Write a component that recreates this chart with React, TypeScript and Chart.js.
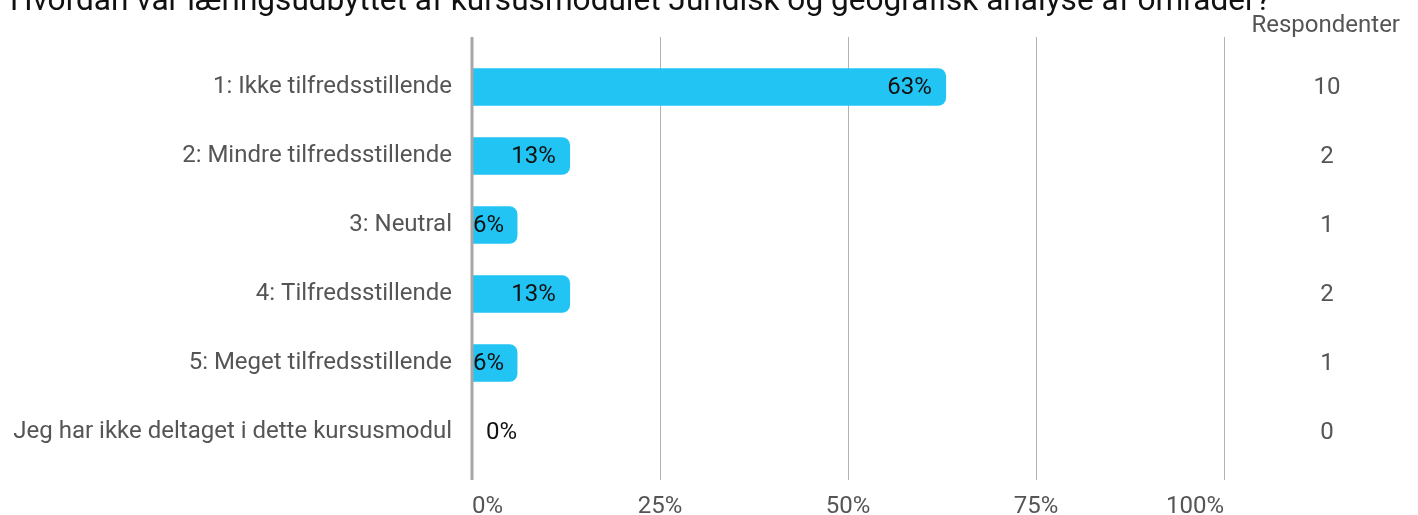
import React, { useEffect, useRef } from "react";
import { Chart, registerables } from "chart.js";

Chart.register(...registerables);

const titleText = "Hvordan var læringsudbyttet af kursusmodulet Juridisk og geografisk analyse af områder?";
const categories = [
  "1: Ikke tilfredsstillende",
  "2: Mindre tilfredsstillende",
  "3: Neutral",
  "4: Tilfredsstillende",
  "5: Meget tilfredsstillende",
  "Jeg har ikke deltaget i dette kursusmodul",
];
const respondents = [10, 2, 1, 2, 1, 0];
const percentValues = [63, 13, 6, 13, 6, 0];
const xTicks = [0, 25, 50, 75, 100];
const respondentsHeader = "Respondenter";

const FONT = "Roboto, 'Noto Sans', sans-serif";

const overlayPlugin = {
  id: "overlay",
  beforeDatasetsDraw(chart: any) {
    const ctx = chart.ctx;
    const xs = chart.scales.x;
    ctx.save();
    xs.ticks.forEach((t: any) => {
      const px = xs.getPixelForValue(t.value);
      if (t.value === 0) return;
      ctx.strokeStyle = "#b3b3b3";
      ctx.lineWidth = 1;
      ctx.beginPath();
      ctx.moveTo(Math.round(px) + 0.5, 37);
      ctx.lineTo(Math.round(px) + 0.5, 480);
      ctx.stroke();
    });
    ctx.restore();
  },
  afterDatasetsDraw(chart: any) {
    const ctx = chart.ctx;
    const xs = chart.scales.x;
    const ys = chart.scales.y;
    ctx.save();
    // zero axis line
    const x0 = xs.getPixelForValue(0);
    ctx.strokeStyle = "#a6a6a6";
    ctx.lineWidth = 3;
    ctx.beginPath();
    ctx.moveTo(x0, 37);
    ctx.lineTo(x0, 480);
    ctx.stroke();

    // value labels
    ctx.font = `24px ${FONT}`;
    ctx.fillStyle = "#111111";
    ctx.textBaseline = "middle";
    ctx.textAlign = "left";
    const meta = chart.getDatasetMeta(0);
    meta.data.forEach((bar: any, i: number) => {
      const label = percentValues[i] + "%";
      const w = ctx.measureText(label).width;
      const end = bar.x;
      const base = bar.base;
      let tx;
      if (percentValues[i] === 0) tx = base + 14;
      else if (end - base < w + 24) tx = base + 1;
      else tx = end - 14 - w;
      ctx.fillText(label, tx, bar.y + 1);
    });

    // respondents column
    ctx.fillStyle = "#555555";
    ctx.textAlign = "center";
    respondents.forEach((r, i) => {
      ctx.fillText(String(r), 1327, ys.getPixelForValue(i) + 1);
    });
    ctx.textAlign = "right";
    ctx.textBaseline = "alphabetic";
    ctx.fillText(respondentsHeader, 1400, 32);

    // title
    ctx.fillStyle = "#111111";
    ctx.textAlign = "left";
    ctx.font = `31.6px ${FONT}`;
    ctx.fillText(titleText, 10, 10);
    ctx.restore();
  },
};

export default function App() {
  const ref = useRef<HTMLCanvasElement | null>(null);
  useEffect(() => {
    document.body.style.margin = "0";
    const canvas = ref.current!;
    const chart = new Chart(canvas, {
      type: "bar",
      data: {
        labels: categories,
        datasets: [
          {
            data: percentValues,
            backgroundColor: "#22c4f4",
            borderWidth: 0,
            borderRadius: 8,
            borderSkipped: "start",
            barThickness: 37,
          },
        ],
      },
      options: {
        indexAxis: "y",
        animation: false,
        responsive: false,
        maintainAspectRatio: false,
        layout: { padding: { top: 52.5, right: 194, left: 0, bottom: 0 } },
        plugins: {
          legend: { display: false },
          tooltip: { enabled: false },
          title: { display: false },
        },
        scales: {
          x: {
            min: 0,
            max: 100,
            afterBuildTicks(scale: any) {
              scale.ticks = xTicks.map((v) => ({ value: v }));
            },
            afterFit(scale: any) {
              scale.height = 48.5;
            },
            grid: { display: false, drawTicks: false },
            border: { display: false },
            ticks: {
              align: "inner",
              padding: 26,
              color: "#555555",
              font: { family: FONT, size: 24 },
              callback: (v: any) => v + "%",
            },
          },
          y: {
            afterFit(scale: any) {
              scale.width = 472;
            },
            grid: { display: false, drawTicks: false },
            border: { display: false },
            ticks: {
              padding: 20,
              color: "#555555",
              font: { family: FONT, size: 24 },
            },
          },
        },
      },
      plugins: [overlayPlugin],
    });
    return () => chart.destroy();
  }, []);
  return <canvas ref={ref} width={1418} height={515} style={{ display: "block" }} />;
}
